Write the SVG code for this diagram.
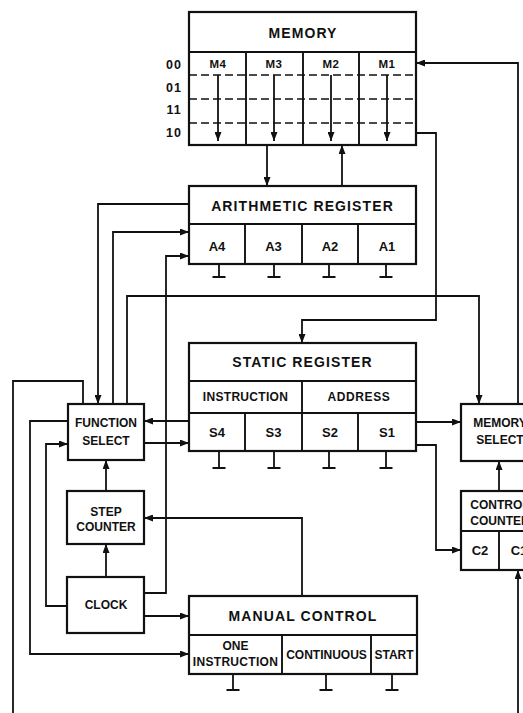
<svg xmlns="http://www.w3.org/2000/svg" width="523" height="713" viewBox="0 0 523 713">
<style>
.box{fill:#fff;stroke:#111;stroke-width:2.2}
.div{fill:none;stroke:#111;stroke-width:1.9}
.dash{fill:none;stroke:#111;stroke-width:1.7;stroke-dasharray:8 4}
.ln{fill:none;stroke:#111;stroke-width:1.8}
.arr{marker-end:url(#ah)}
.gnd{fill:none;stroke:#111;stroke-width:1.8}
text{font-family:"Liberation Sans",Arial,sans-serif;font-weight:bold;fill:#111;text-anchor:middle}
.t{font-size:14px;letter-spacing:1.1px}
.n{font-size:12px}
.c{font-size:13px}
.m{font-size:11.5px;letter-spacing:0.5px}
.r{font-size:12.5px;letter-spacing:1px}
</style>
<defs>
<marker id="ah" markerUnits="userSpaceOnUse" markerWidth="9" markerHeight="7" refX="9" refY="3.5" orient="auto">
<path d="M0,0 L9,3.5 L0,7 z" fill="#111"/>
</marker>
</defs>
<rect width="523" height="713" fill="#fff"/>

<g id="memory">
<rect class="box" x="189" y="12" width="227" height="133"/>
<line class="div" x1="189" y1="52" x2="416" y2="52"/>
<line class="dash" x1="189" y1="75" x2="416" y2="75"/>
<line class="dash" x1="189" y1="99" x2="416" y2="99"/>
<line class="dash" x1="189" y1="123" x2="416" y2="123"/>
<line class="div" x1="246" y1="52" x2="246" y2="145"/>
<line class="div" x1="303" y1="52" x2="303" y2="145"/>
<line class="div" x1="359" y1="52" x2="359" y2="145"/>
<text class="t" x="303" y="38">MEMORY</text>
<text class="m" x="218" y="68">M4</text>
<text class="m" x="274" y="68">M3</text>
<text class="m" x="331" y="68">M2</text>
<text class="m" x="387" y="68">M1</text>
<text class="r" x="174" y="68.5">00</text>
<text class="r" x="174" y="91.5">01</text>
<text class="r" x="174" y="113.5">11</text>
<text class="r" x="174" y="136.5">10</text>
<path class="ln arr" d="M218,75 V141"/>
<path class="ln arr" d="M274,75 V141"/>
<path class="ln arr" d="M331,75 V141"/>
<path class="ln arr" d="M387,75 V141"/>
</g>

<g id="arithmetic-register">
<rect class="box" x="189" y="186" width="227" height="78"/>
<line class="div" x1="189" y1="224" x2="416" y2="224"/>
<line class="div" x1="245" y1="224" x2="245" y2="264"/>
<line class="div" x1="302" y1="224" x2="302" y2="264"/>
<line class="div" x1="358" y1="224" x2="358" y2="264"/>
<text class="t" x="302.5" y="211">ARITHMETIC REGISTER</text>
<text class="c" x="217" y="250.5">A4</text>
<text class="c" x="273.5" y="250.5">A3</text>
<text class="c" x="330" y="250.5">A2</text>
<text class="c" x="387" y="250.5">A1</text>
<path class="gnd" d="M219,264 V277 M212.5,277 H225.5 M274,264 V277 M267.5,277 H280.5 M329,264 V277 M322.5,277 H335.5 M386,264 V277 M379.5,277 H392.5"/>
</g>

<g id="static-register">
<rect class="box" x="189" y="343" width="227" height="108"/>
<line class="div" x1="189" y1="381" x2="416" y2="381"/>
<line class="div" x1="189" y1="413" x2="416" y2="413"/>
<line class="div" x1="302" y1="381" x2="302" y2="451"/>
<line class="div" x1="245" y1="413" x2="245" y2="451"/>
<line class="div" x1="358" y1="413" x2="358" y2="451"/>
<text class="t" x="302.5" y="367">STATIC REGISTER</text>
<text class="n" x="245.5" y="401" style="letter-spacing:0.3px">INSTRUCTION</text>
<text class="n" x="359" y="401" style="letter-spacing:0.6px">ADDRESS</text>
<text class="c" x="217" y="436.5">S4</text>
<text class="c" x="273.5" y="436.5">S3</text>
<text class="c" x="330" y="436.5">S2</text>
<text class="c" x="387" y="436.5">S1</text>
<path class="gnd" d="M219,451 V468 M212.5,468 H225.5 M274,451 V468 M267.5,468 H280.5 M329,451 V468 M322.5,468 H335.5 M386,451 V468 M379.5,468 H392.5"/>
</g>

<g id="function-select">
<rect class="box" x="68" y="404" width="76" height="56"/>
<text class="n" x="106" y="427">FUNCTION</text>
<text class="n" x="106" y="445">SELECT</text>
</g>

<g id="step-counter">
<rect class="box" x="67" y="491" width="77" height="53"/>
<text class="n" x="106" y="516">STEP</text>
<text class="n" x="106" y="531">COUNTER</text>
</g>

<g id="clock">
<rect class="box" x="67" y="577" width="77" height="56"/>
<text class="n" x="106" y="609">CLOCK</text>
</g>

<g id="manual-control">
<rect class="box" x="189" y="596" width="228" height="78"/>
<line class="div" x1="189" y1="635" x2="417" y2="635"/>
<line class="div" x1="282" y1="635" x2="282" y2="674"/>
<line class="div" x1="371" y1="635" x2="371" y2="674"/>
<text class="t" x="303" y="621">MANUAL CONTROL</text>
<text class="n" x="235.5" y="650">ONE</text>
<text class="n" x="235.5" y="666" style="letter-spacing:0.3px">INSTRUCTION</text>
<text class="n" x="326.5" y="659">CONTINUOUS</text>
<text class="n" x="394" y="659">START</text>
<path class="gnd" d="M233,674 V690 M226.5,690 H239.5 M326,674 V690 M319.5,690 H332.5 M392,674 V690 M385.5,690 H398.5"/>
</g>

<g id="memory-select">
<rect class="box" x="461" y="404" width="80" height="57"/>
<text class="n" x="500" y="427">MEMORY</text>
<text class="n" x="500" y="444">SELECT</text>
</g>

<g id="control-counter">
<rect class="box" x="461" y="491" width="80" height="79"/>
<line class="div" x1="461" y1="531" x2="541" y2="531"/>
<line class="div" x1="499" y1="531" x2="499" y2="570"/>
<text class="n" x="500" y="509">CONTROL</text>
<text class="n" x="500" y="525">COUNTER</text>
<text class="c" x="480" y="555">C2</text>
<text class="c" x="519" y="555">C1</text>
</g>

<g id="connectors">
<path class="ln arr" d="M267,145 V186"/>
<path class="ln arr" d="M342,186 V145"/>
<path class="ln arr" d="M416,133 H436 V320 H302 V343"/>
<path class="ln arr" d="M518,404 V63 H416"/>
<path class="ln arr" d="M189,204 H98 V404"/>
<path class="ln arr" d="M113,404 V232 H189"/>
<path class="ln arr" d="M144,593 H166 V256 H189"/>
<path class="ln arr" d="M127,404 V296 H479 V404"/>
<path class="ln arr" d="M189,421 H144"/>
<path class="ln arr" d="M144,443 H189"/>
<path class="ln arr" d="M416,422 H461"/>
<path class="ln arr" d="M416,445 H436 V550 H461"/>
<path class="ln arr" d="M499,491 V461"/>
<path class="ln arr" d="M518,713 V570"/>
<path class="ln" d="M83,404 V381 H13 V713"/>
<path class="ln arr" d="M68,421 H30 V654 H189"/>
<path class="ln arr" d="M68,606 H46 V444 H68"/>
<path class="ln arr" d="M106,491 V460"/>
<path class="ln arr" d="M106,577 V544"/>
<path class="ln arr" d="M144,616 H189"/>
<path class="ln arr" d="M302,596 V518 H144"/>
</g>
</svg>
